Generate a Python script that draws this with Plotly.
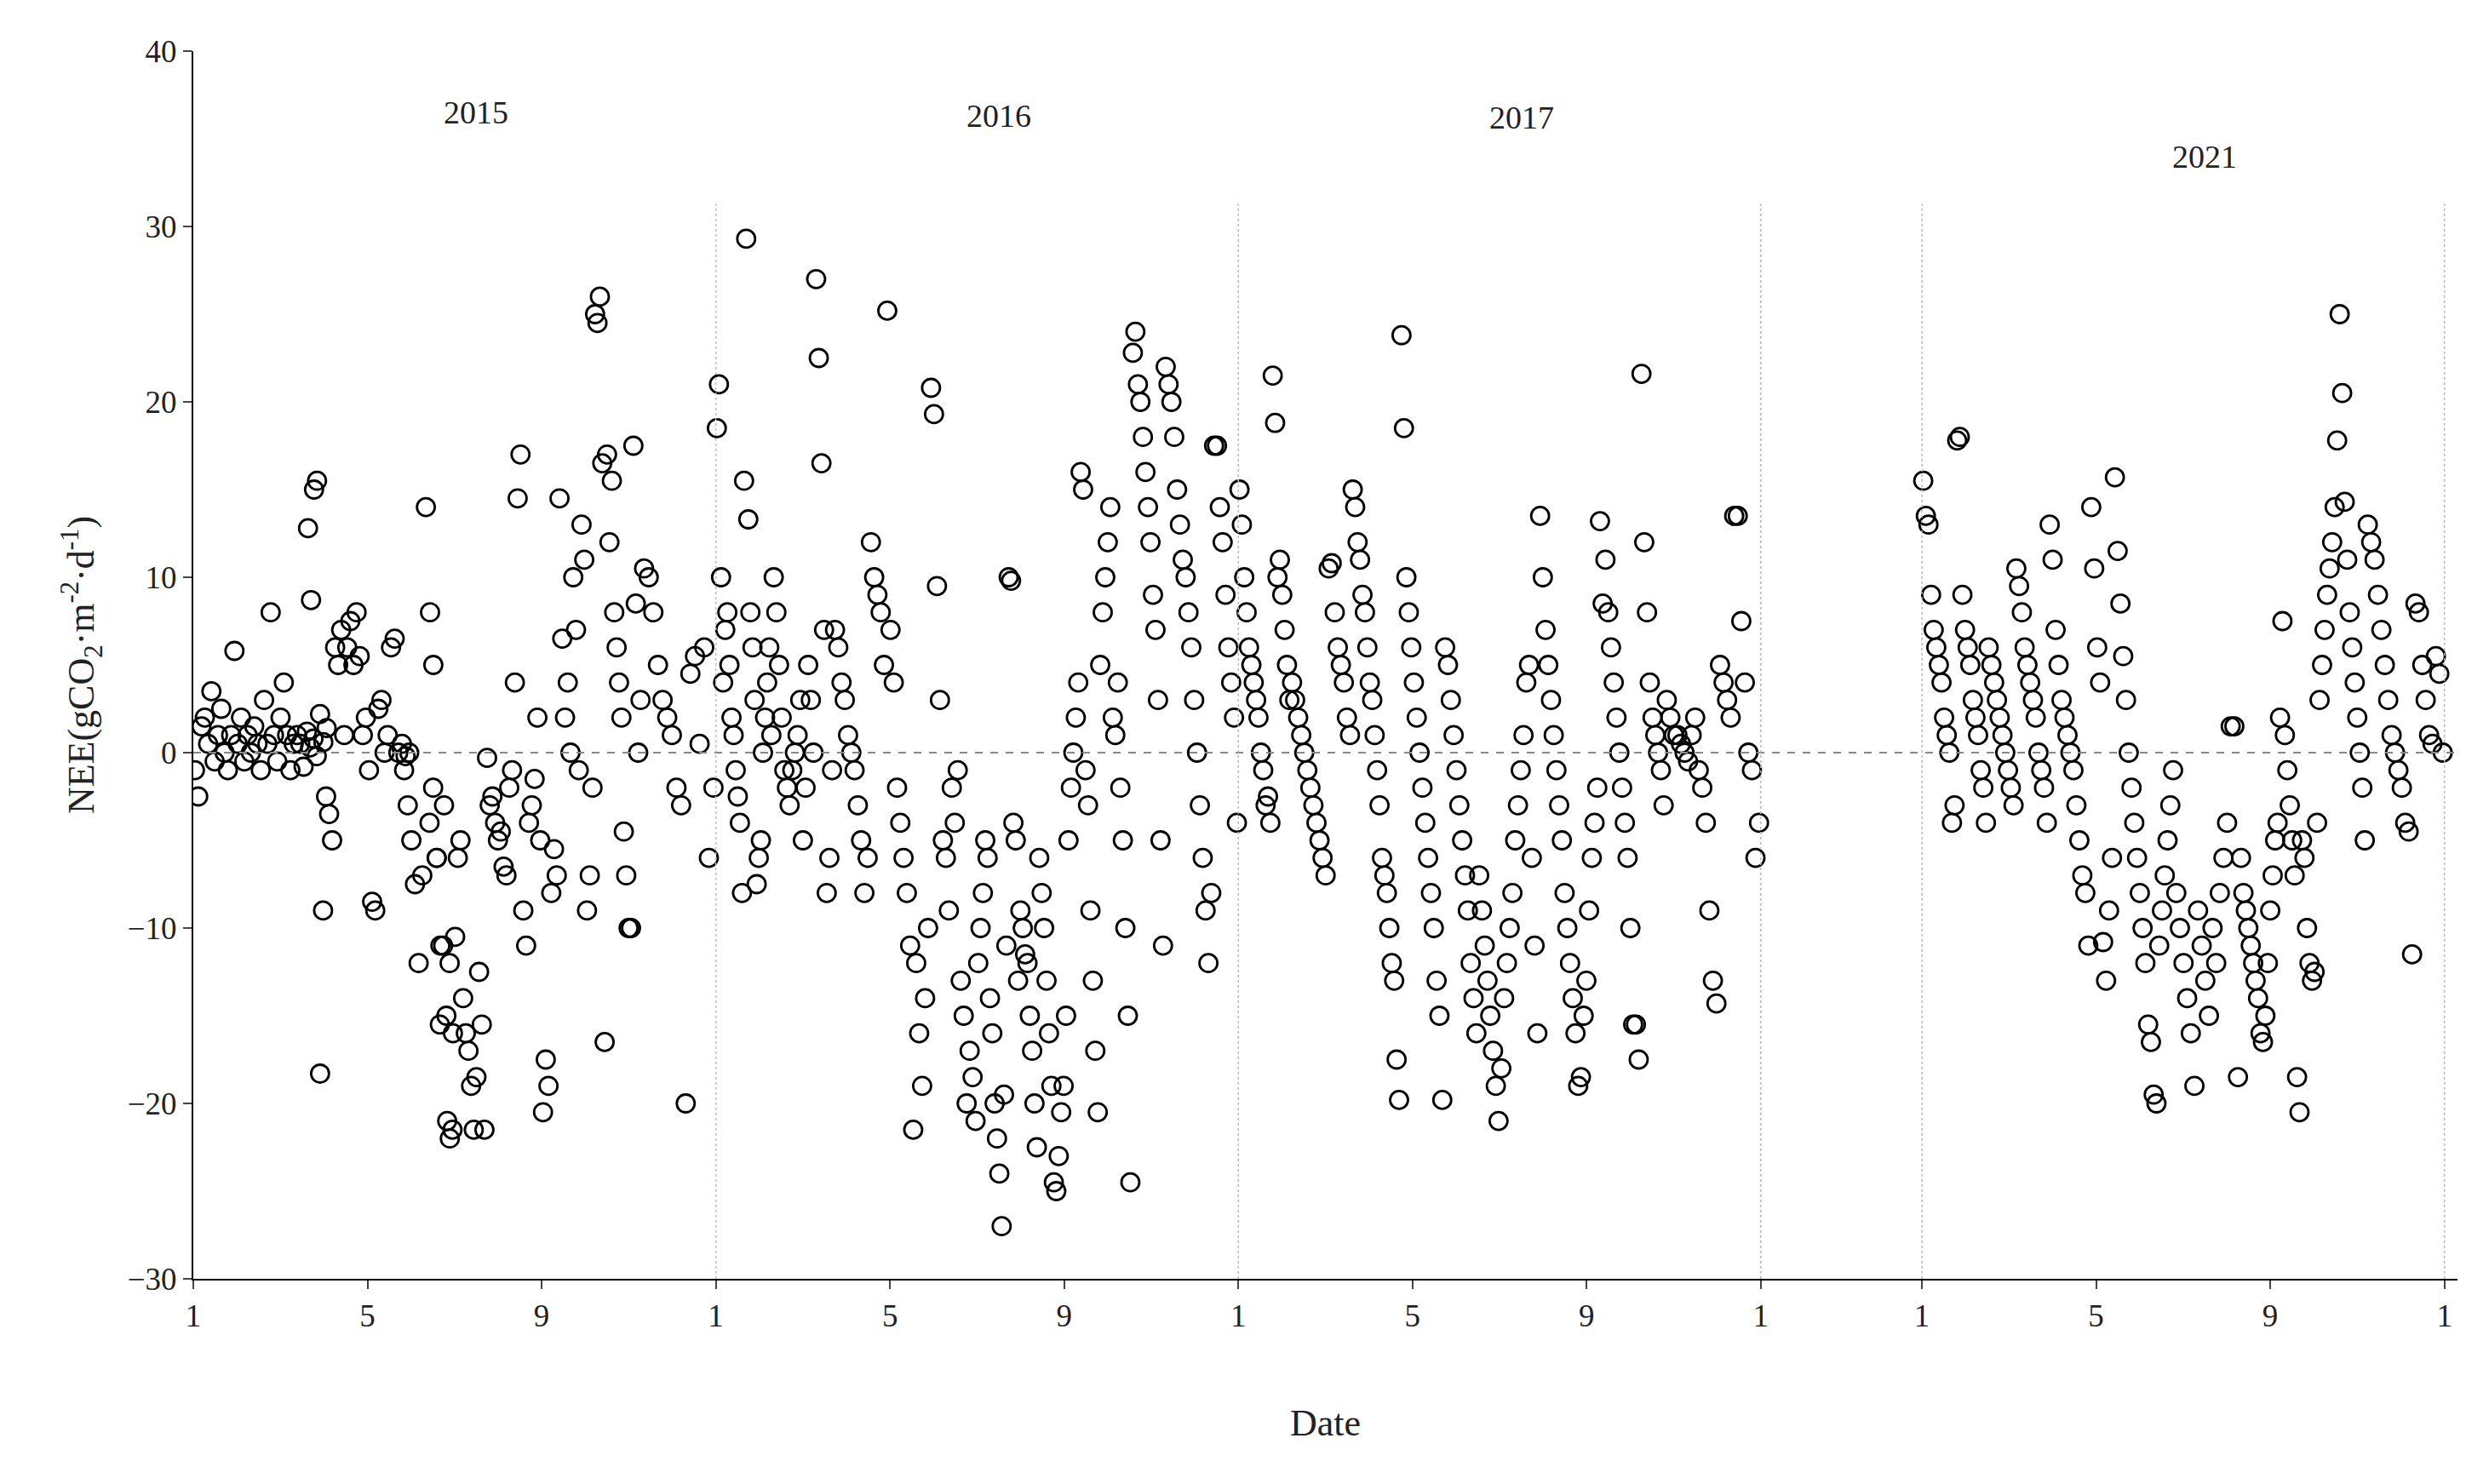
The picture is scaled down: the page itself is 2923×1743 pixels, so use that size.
import plotly.graph_objects as go

# x in months since Jan 1 of each year; each chunk = (month_from, month_to, NEE values read in that window)
y2015 = [
    (0.0, 3.1, [-1, -2.5, 1.5, 2, 0.5, 3.5, -0.5, 1, 2.5, 0, -1, 1, 5.8, 0.5, 2, -0.5, 1, 0, 1.5, 0.5, -1, 3, 0.5, 8, 1, -0.5, 2, 4, 1, -1, 0.5,
                1, 0.5, -0.8, 1.2, 0.3, 0.8, -0.2, 2.2, 0.6, 1.4]),
    (2.6, 3.5, [12.8, 8.7, 15, 15.5, -18.3, -9, -2.5, -3.5, -5, 6, 5, 7, 1]),
    (3.5, 4.5, [6, 7.5, 5, 8, 5.5, 1, 2, -1, -8.5, -9, 2.5, 3, 0, 1]),
    (4.5, 5.0, [6, 6.5, 0, 0.5, -0.2, 0]),
    (4.8, 5.8, [-1, -3, -5, -7.5, -12, -7, 14, -4, -2, -6, -11, -3]),
    (5.4, 6.0, [8, 5, -6, -15.5, -11, -15, -12, -16]),
    (5.8, 6.9, [-21, -22, -21.5, -10.5, -6, -5, -14, -16, -17, -19, -21.5, -18.5, -12.5, -15.5, -21.5, -0.3, -3, -2.5]),
    (6.9, 8.0, [-4, -5, -4.5, -6.5, -7, -2, -1, 4, 14.5, 17, -9, -11, -4, -3, -1.5, 2, -5]),
    (8.0, 9.2, [-20.5, -17.5, -19, -8, -5.5, -7, 14.5, 6.5, 2, 4, 0, 10, 7, -1, 13, 11, -9, -7, -2]),
    (9.2, 10.3, [25, 24.5, 26, 16.5, -16.5, 17, 12, 15.5, 8, 6, 4, 2, -4.5, -7, -10, -10, 17.5, 8.5, 0, 3]),
    (10.3, 12.0, [10.5, 10, 8, 5, 3, 2, 1, -2, -3, -20, 4.5, 5.5, 0.5, 6, -6, -2]),
]
y2016 = [
    (0.0, 1.3, [18.5, 21, 10, 4, 7, 8, 5, 2, 1, -1, -2.5, -4, -8, 15.5, 29.3, 13.3, 8, 6, 3, -7.5, -6, -5, 0, 2, 4, 6, 1]),
    (1.3, 2.7, [10, 8, 5, 2, -1, -2, -3, -1, 0, 1, 3, -5, -2, 5, 3, 0, 27, 22.5, 16.5, 7, -8, -6, -1]),
    (2.7, 4.5, [7, 6, 4, 3, 1, 0, -1, -3, -5, -8, -6, 12, 10, 9, 8, 5, 25.2, 7, 4, -2, -4, -6, -8, -11]),
    (4.5, 6.0, [-21.5, -12, -16, -19, -14, -10, 20.8, 19.3, 9.5, 3, -5, -6, -9, -2, -4, -1, -13, -15, -20, -17, -18.5, -21]),
    (6.0, 7.4, [-12, -10, -8, -5, -6, -14, -16, -20, -22, -24, -27, -19.5, -11, 10, 9.8, -4, -5, -13, -9, -10, -11.5, -12, -15, -17, -20, -22.5]),
    (7.4, 8.8, [-6, -8, -10, -13, -16, -19, -24.5, -25, -23, -20.5, -19, -15, -5, -2, 0, 2, 4, 16, 15, -1, -3, -9, -13, -17, -20.5]),
    (8.8, 10.3, [5, 8, 10, 12, 14, 2, 1, 4, -2, -5, -10, -15, -24.5, 22.8, 24, 21, 20, 18, 16, 14, 12, 9, 7, 3, -5, -11]),
    (10.3, 12.0, [22, 21, 20, 18, 15, 13, 11, 10, 8, 6, 3, 0, -3, -6, -9, -12, -8, 17.5, 17.5, 14, 12, 9, 6, 4, 2, -4]),
]
y2017 = [
    (0.0, 1.2, [15, 13, 10, 8, 6, 5, 4, 3, 2, 0, -1, -3, -2.5, -4, 21.5, 18.8, 10, 11, 9, 7, 5, 3]),
    (1.2, 2.6, [4, 3, 2, 1, 0, -1, -2, -3, -4, -5, -6, -7, 10.5, 10.8, 8, 6, 5, 4, 2, 1]),
    (2.6, 4.0, [15, 14, 12, 11, 9, 8, 6, 4, 3, 1, -1, -3, -6, -7, -8, -10, -12, -13, -17.5, -19.8, 23.8, 18.5, 10, 8, 6]),
    (4.0, 5.5, [4, 2, 0, -2, -4, -6, -8, -10, -13, -15, -19.8, 6, 5, 3, 1, -1, -3, -5, -7, -9, -12, -14, -16]),
    (5.5, 6.9, [-7, -9, -11, -13, -15, -17, -19, -21, -18, -14, -12, -10, -8, -5, -3, -1, 1, 4, 5, -6, -11, -16]),
    (6.9, 8.4, [13.5, 10, 7, 5, 3, 1, -1, -3, -5, -8, -10, -12, -14, -16, -19, -18.5, -15, -13, -9, -6, -4, -2, 13.2, 8.5]),
    (8.4, 9.8, [11, 8, 6, 4, 2, 0, -2, -4, -6, -10, -15.5, -15.5, -17.5, 21.6, 12, 8, 4, 2, 1, 0, -1, -3]),
    (9.8, 12.0, [3, 2, 1, 1, 0.5, 0, -0.5, 1, 2, -1, -2, -4, -9, -13, -14.3, 5, 4, 3, 2, 13.5, 13.5, 7.5, 4, 0, -1, -6, -4]),
]
y2021 = [
    (0.0, 1.5, [15.5, 13.5, 13, 9, 7, 6, 5, 4, 2, 1, 0, -4, -3, 17.8, 18, 9, 7, 6, 5, 3, 2, 1, -1, -2, -4]),
    (1.5, 2.9, [6, 5, 4, 3, 2, 1, 0, -1, -2, -3, 10.5, 9.5, 8, 6, 5, 4, 3, 2, 0, -1, -2, -4]),
    (2.9, 4.4, [13, 11, 7, 5, 3, 2, 1, 0, -1, -3, -5, -7, -8, -11, 14, 10.5, 6, 4, -10.8, -13, -9, -6]),
    (4.4, 5.8, [15.7, 11.5, 8.5, 5.5, 3, 0, -2, -4, -6, -8, -10, -12, -15.5, -16.5, -19.5, -20, -11, -9, -7, -5, -3, -1]),
    (5.8, 7.3, [-8, -10, -12, -14, -16, -19, -9, -11, -13, -15, -10, -12, -8, -6, -4, 1.5, 1.5, -18.5]),
    (7.3, 8.7, [-6, -8, -9, -10, -11, -12, -13, -14, -16, -16.5, -15, -12, -9, -7, -5, -4, 2, 7.5, 1, -1, -3, -5, -7, -18.5, -20.5]),
    (8.7, 10.2, [-5, -6, -10, -12, -13, -12.5, -4, 3, 5, 7, 9, 10.5, 12, 14, 17.8, 25, 20.5, 14.3, 11, 8, 6, 4, 2, 0, -2, -5]),
    (10.2, 12.0, [13, 12, 11, 9, 7, 5, 3, 1, 0, -1, -2, -4, -4.5, -11.5, 8.5, 8, 5, 3, 1, 0.5, 5.5, 4.5, 0]),
]

years = ["2015", "2016", "2017", "2021"]
year_start = [0, 12, 24, 39.7]   # axis offset of each year's Jan 1 (gap before 2021)
year_label_y = [36.5, 36.3, 36.2, 34.0]
tick_months = ["1", "5", "9"]

xs, ys = [], []
for chunks, off in zip([y2015, y2016, y2017, y2021], year_start):
    for a, b, vals in chunks:
        n = len(vals)
        for i, v in enumerate(vals):
            xs.append(off + a + (b - a) * (i + 0.5) / n)
            ys.append(v)

fig = go.Figure(go.Scatter(
    x=xs, y=ys, mode='markers',
    marker=dict(symbol='circle-open', size=21, color='black', line=dict(width=2.8))))

tickvals, ticktext = [], []
for off in year_start:
    for k, t in enumerate(tick_months):
        tickvals.append(off + 4 * k)
        ticktext.append(t)
tickvals += [36, 51.7]
ticktext += ["1", "1"]

shapes = [dict(type='line', x0=0, x1=52, y0=0, y1=0, xref='x', yref='y',
               line=dict(color='#888', width=2, dash='dash'))]
for xv in [12, 24, 36, 39.7, 51.7]:
    shapes.append(dict(type='line', x0=xv, x1=xv, y0=-30, y1=31.3, xref='x', yref='y',
                       line=dict(color='#bbb', width=1.5, dash='dot')))

ann = [dict(x=off + 6.5, y=ly, text=yr, showarrow=False, xref='x', yref='y',
            font=dict(size=38))
       for off, ly, yr in zip(year_start, year_label_y, years)]

font = dict(family="Liberation Serif", size=37, color='#222')
fig.update_layout(
    width=2923, height=1743, font=font,
    paper_bgcolor='white', plot_bgcolor='white', showlegend=False,
    margin=dict(l=219, r=45, t=52, b=249),
    shapes=shapes, annotations=ann,
    xaxis=dict(range=[0, 52], tickvals=tickvals, ticktext=ticktext, showgrid=False,
               zeroline=False, showline=True, linecolor='black', linewidth=2,
               ticks='outside', ticklen=10, tickwidth=2,
               title=dict(text="Date", standoff=90)),
    yaxis=dict(range=[-30, 40], dtick=10, showgrid=False, zeroline=False,
               showline=True, linecolor='black', linewidth=2,
               ticks='outside', ticklen=10, tickwidth=2,
               title=dict(text="NEE(gCO<sub>2</sub>·m<sup>-2</sup>·d<sup>-1</sup>)", standoff=25)),
)

fig.write_html("out.html")
